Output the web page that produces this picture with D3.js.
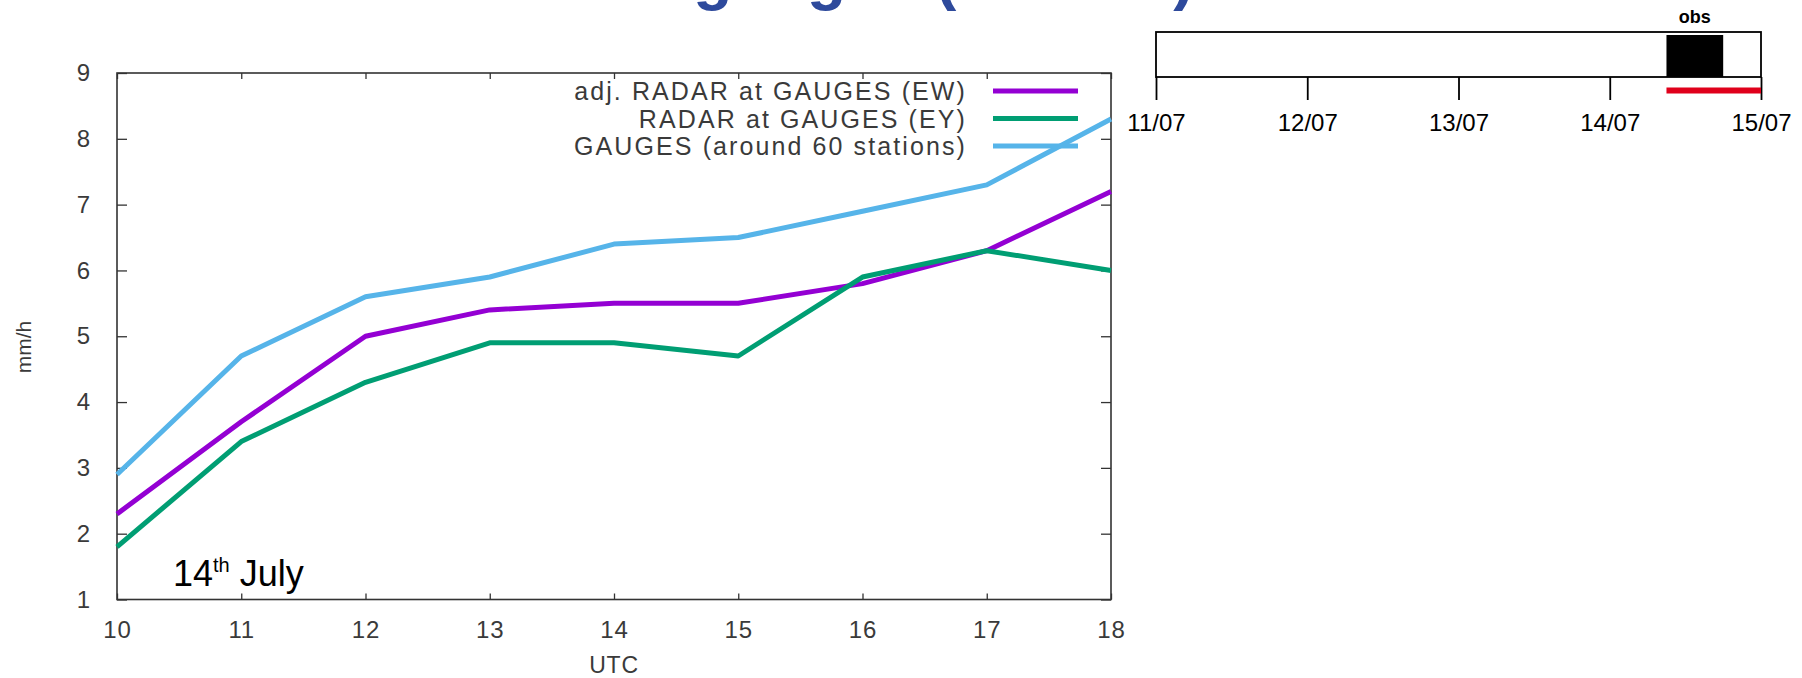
<!DOCTYPE html>
<html>
<head>
<meta charset="utf-8">
<script src="https://cdn.jsdelivr.net/npm/d3@7"></script>
<style>
  html, body { margin: 0; padding: 0; background: #fff; }
  svg { display: block; font-family: "Liberation Sans", Arial, sans-serif; }
</style>
</head>
<body>
<svg id="chart" width="1802" height="678"></svg>
<script>
// Hourly rain rate (mm/h), 14 July, 10–18 UTC
const hours = [10, 11, 12, 13, 14, 15, 16, 17, 18];
const adjRadar = [2.3, 3.7, 5.0, 5.4, 5.5, 5.5, 5.8, 6.3, 7.2];
const radar = [1.8, 3.4, 4.3, 4.9, 4.9, 4.7, 5.9, 6.3, 6.0];
const gauges = [2.9, 4.7, 5.6, 5.9, 6.4, 6.5, 6.9, 7.3, 8.3];

const seriesNames = ["adj. RADAR at GAUGES (EW)", "RADAR at GAUGES (EY)", "GAUGES (around 60 stations)"];
const seriesColors = ["#9400d3", "#009e73", "#56b4e9"];
const yTicks = [1, 2, 3, 4, 5, 6, 7, 8, 9];

// Overview timeline (days of July)
const timelineDays = [11, 12, 13, 14, 15];
const timelineLabels = ["11/07", "12/07", "13/07", "14/07", "15/07"];
const obsWindow = [14 + 9 / 24, 14 + 18 / 24];
const redSpan = [14 + 9 / 24, 15];

const svg = d3.select("#chart");

// ---- Title (runs off the top edge) ----
svg.append("text")
  .attr("x", 405).attr("y", -2)
  .attr("font-size", 64).attr("font-weight", "bold")
  .attr("fill", "#2e4a9c")
  .text("Radar vs gauges (1h acc.)");

// ---- Main line chart ----
const x = d3.scaleLinear().domain([10, 18]).range([117, 1111]);
const y = d3.scaleLinear().domain([1, 9]).range([599.5, 73]);
const axisColor = "#333";
const labelColor = "#3a3a3a";

const g = svg.append("g");

function styleAxis(sel) {
  sel.select(".domain").remove();
  sel.selectAll(".tick line").attr("stroke", axisColor).attr("stroke-width", 1.3);
  sel.selectAll(".tick text").attr("fill", labelColor)
    .attr("font-family", "Liberation Sans, Arial, sans-serif").attr("font-size", 24)
    .attr("letter-spacing", 0.8);
}

g.append("g").attr("transform", `translate(0,${y(1)})`)
  .call(d3.axisBottom(x).tickValues(hours).tickSizeInner(-6).tickSizeOuter(0).tickPadding(21))
  .call(styleAxis);
g.append("g").attr("transform", `translate(0,${y(9)})`)
  .call(d3.axisTop(x).tickValues(hours).tickSizeInner(-6).tickSizeOuter(0).tickFormat(""))
  .call(styleAxis);
g.append("g").attr("transform", `translate(${x(10)},0)`)
  .call(d3.axisLeft(y).tickValues(yTicks).tickSizeInner(-10).tickSizeOuter(0).tickPadding(26))
  .call(styleAxis);
g.append("g").attr("transform", `translate(${x(18)},0)`)
  .call(d3.axisRight(y).tickValues(yTicks).tickSizeInner(-10).tickSizeOuter(0).tickFormat(""))
  .call(styleAxis);

// plot frame
g.append("rect")
  .attr("x", x(10)).attr("y", y(9))
  .attr("width", x(18) - x(10)).attr("height", y(1) - y(9))
  .attr("fill", "none").attr("stroke", axisColor).attr("stroke-width", 1.6);

// axis titles
g.append("text")
  .attr("transform", `translate(31,347) rotate(-90)`)
  .attr("text-anchor", "middle").attr("font-size", 21).attr("fill", labelColor)
  .text("mm/h");
g.append("text")
  .attr("x", (x(10) + x(18)) / 2).attr("y", 673)
  .attr("text-anchor", "middle").attr("font-size", 23).attr("fill", labelColor)
  .attr("letter-spacing", 0.8)
  .text("UTC");

// series lines
const line = d3.line().x((d, i) => x(hours[i])).y(d => y(d));
[adjRadar, radar, gauges].forEach((vals, k) => {
  g.append("path")
    .attr("d", line(vals))
    .attr("fill", "none")
    .attr("stroke", seriesColors[k])
    .attr("stroke-width", 5)
    .attr("stroke-linejoin", "round");
});

// legend
const legend = g.append("g");
seriesNames.forEach((name, k) => {
  const cy = 91 + k * 27.5;
  legend.append("text")
    .attr("x", 967).attr("y", cy).attr("dy", "0.36em")
    .attr("text-anchor", "end").attr("font-size", 25)
    .attr("letter-spacing", 2.1).attr("fill", labelColor)
    .text(name);
  legend.append("line")
    .attr("x1", 993).attr("x2", 1078).attr("y1", cy).attr("y2", cy)
    .attr("stroke", seriesColors[k]).attr("stroke-width", 5);
});

// date annotation
const ann = g.append("text").attr("x", 173).attr("y", 586)
  .attr("font-size", 36).attr("fill", "#000");
ann.append("tspan").text("14");
ann.append("tspan").attr("font-size", 20).attr("dy", -14).text("th");
ann.append("tspan").attr("dy", 14).text(" July");

// ---- Overview timeline ----
const tx = d3.scaleLinear().domain([11, 15]).range([1156, 1761]);
const tTop = 32, tBottom = 77;
const tl = svg.append("g");

tl.append("rect")
  .attr("x", tx(11)).attr("y", tTop)
  .attr("width", tx(15) - tx(11)).attr("height", tBottom - tTop)
  .attr("fill", "none").attr("stroke", "#000").attr("stroke-width", 1.8);

tl.append("rect")
  .attr("x", tx(obsWindow[0])).attr("y", 35)
  .attr("width", tx(obsWindow[1]) - tx(obsWindow[0])).attr("height", tBottom - 35)
  .attr("fill", "#000");

tl.append("text")
  .attr("x", (tx(obsWindow[0]) + tx(obsWindow[1])) / 2).attr("y", 23)
  .attr("text-anchor", "middle").attr("font-size", 18).attr("font-weight", "bold")
  .text("obs");

tl.append("g").attr("transform", `translate(0,${tBottom})`)
  .call(d3.axisBottom(tx).tickValues(timelineDays).tickSizeInner(23).tickSizeOuter(0)
    .tickPadding(14).tickFormat((d, i) => timelineLabels[i]))
  .call(sel => {
    sel.select(".domain").remove();
    sel.selectAll(".tick line").attr("stroke", "#000").attr("stroke-width", 1.8);
    sel.selectAll(".tick text").attr("fill", "#000")
      .attr("font-family", "Liberation Sans, Arial, sans-serif").attr("font-size", 24);
  });

tl.append("line")
  .attr("x1", tx(redSpan[0])).attr("x2", tx(redSpan[1]))
  .attr("y1", 90.5).attr("y2", 90.5)
  .attr("stroke", "#e0001b").attr("stroke-width", 6);
</script>
</body>
</html>
